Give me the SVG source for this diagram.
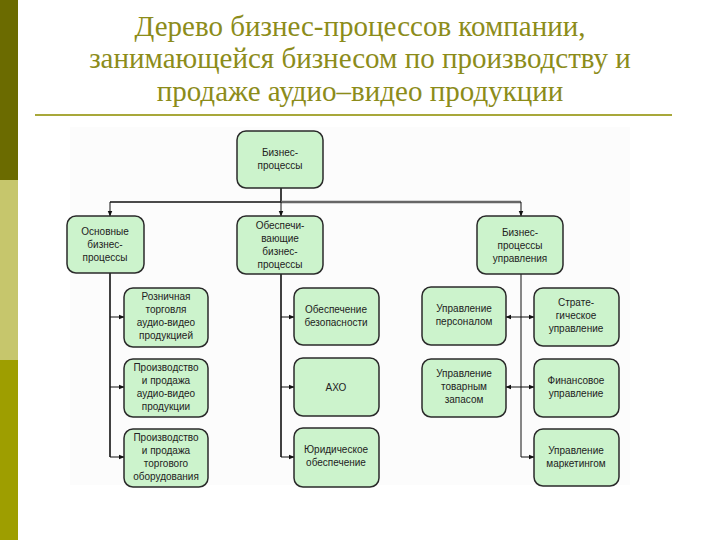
<svg xmlns="http://www.w3.org/2000/svg" width="720" height="540" viewBox="0 0 720 540">
<defs>
<style>
.title{font-family:"Liberation Serif","DejaVu Serif",serif;font-size:29px;fill:#8c8c1a;text-anchor:middle}
.node rect{fill:#ccf3cc;stroke:#2a2a2a;stroke-width:1.5}
.node text{font-family:"Liberation Sans",Arial,sans-serif;font-size:10px;fill:#222;text-anchor:middle}
.con{stroke:#111;stroke-width:1.6;fill:none}
.thin{stroke:#111;stroke-width:1;fill:none}
</style>
<marker id="ah" viewBox="0 0 10 10" refX="9" refY="5" markerWidth="6" markerHeight="6" orient="auto-start-reverse" markerUnits="userSpaceOnUse">
<path d="M0,1 L10,5 L0,9 z" fill="#111"/>
</marker>
</defs>
<rect x="0" y="0" width="720" height="540" fill="#ffffff"/>
<rect x="0" y="0" width="18" height="180" fill="#6b6b00"/>
<rect x="0" y="180" width="18" height="180" fill="#c6c66c"/>
<rect x="0" y="360" width="18" height="180" fill="#9e9e00"/>
<text class="title" x="360" y="36">Дерево бизнес-процессов компании,</text>
<text class="title" x="360" y="68">занимающейся бизнесом по производству и</text>
<text class="title" x="360" y="101">продаже аудио–видео продукции</text>
<line x1="35" y1="115" x2="672" y2="115" stroke="#a8a83a" stroke-width="2"/>
<rect x="70" y="127" width="560" height="358" fill="#fcfcfc"/>
<g id="connectors">
<path class="con" d="M281,188 V202"/>
<path class="con" d="M110,202 H281"/>
<path d="M281,202 H521" stroke="#666" stroke-width="2.5" fill="none"/>
<path class="thin" d="M110,202 V216" marker-end="url(#ah)"/>
<path class="thin" d="M281,202 V216" marker-end="url(#ah)"/>
<path class="thin" d="M521,202 V216" marker-end="url(#ah)"/>
<path class="con" d="M110,273 V457"/>
<path class="thin" d="M110,317 H124" marker-end="url(#ah)"/>
<path class="thin" d="M110,387 H124" marker-end="url(#ah)"/>
<path class="thin" d="M110,457 H124" marker-end="url(#ah)"/>
<path class="con" d="M281,274 V457"/>
<path class="thin" d="M281,317 H294" marker-end="url(#ah)"/>
<path class="thin" d="M281,387 H294" marker-end="url(#ah)"/>
<path class="thin" d="M281,457 H294" marker-end="url(#ah)"/>
<path class="thin" d="M521,274 V457"/>
<path class="thin" d="M506,317 H534" marker-start="url(#ah)" marker-end="url(#ah)"/>
<path class="thin" d="M506,387 H534" marker-start="url(#ah)" marker-end="url(#ah)"/>
<path class="thin" d="M521,457 H534" marker-end="url(#ah)"/>
</g>
<g id="n-top" class="node"><rect x="237" y="131" width="86" height="57" rx="9"/><text x="280" y="156">Бизнес-</text><text x="280" y="169">процессы</text></g>
<g id="n-main" class="node"><rect x="67" y="216" width="77" height="57" rx="9"/><text x="105" y="235">Основные</text><text x="105" y="248">бизнес-</text><text x="105" y="261">процессы</text></g>
<g id="n-support" class="node"><rect x="237" y="216" width="86" height="58" rx="9"/><text x="280" y="229">Обеспечи-</text><text x="280" y="242">вающие</text><text x="280" y="255">бизнес-</text><text x="280" y="268">процессы</text></g>
<g id="n-mgmt" class="node"><rect x="477" y="216" width="86" height="58" rx="9"/><text x="520" y="236">Бизнес-</text><text x="520" y="249">процессы</text><text x="520" y="262">управления</text></g>
<g id="n-retail" class="node"><rect x="124" y="288" width="84" height="59" rx="9"/><text x="166" y="300">Розничная</text><text x="166" y="313">торговля</text><text x="166" y="326">аудио-видео</text><text x="166" y="339">продукцией</text></g>
<g id="n-prod" class="node"><rect x="124" y="359" width="84" height="58" rx="9"/><text x="166" y="371">Производство</text><text x="166" y="384">и продажа</text><text x="166" y="397">аудио-видео</text><text x="166" y="410">продукции</text></g>
<g id="n-equip" class="node"><rect x="124" y="429" width="84" height="58" rx="9"/><text x="166" y="441">Производство</text><text x="166" y="454">и продажа</text><text x="166" y="467">торгового</text><text x="166" y="480">оборудования</text></g>
<g id="n-sec" class="node"><rect x="294" y="288" width="85" height="57" rx="9"/><text x="336" y="313">Обеспечение</text><text x="336" y="326">безопасности</text></g>
<g id="n-axo" class="node"><rect x="294" y="358" width="85" height="58" rx="9"/><text x="336" y="391">АХО</text></g>
<g id="n-legal" class="node"><rect x="294" y="428" width="85" height="59" rx="9"/><text x="336" y="453">Юридическое</text><text x="336" y="466">обеспечение</text></g>
<g id="n-hr" class="node"><rect x="422" y="287" width="84" height="58" rx="9"/><text x="464" y="312">Управление</text><text x="464" y="325">персоналом</text></g>
<g id="n-stock" class="node"><rect x="422" y="359" width="84" height="58" rx="9"/><text x="464" y="377">Управление</text><text x="464" y="390">товарным</text><text x="464" y="403">запасом</text></g>
<g id="n-strat" class="node"><rect x="534" y="288" width="85" height="58" rx="9"/><text x="576" y="306">Страте-</text><text x="576" y="319">гическое</text><text x="576" y="332">управление</text></g>
<g id="n-fin" class="node"><rect x="534" y="359" width="85" height="58" rx="9"/><text x="576" y="384">Финансовое</text><text x="576" y="397">управление</text></g>
<g id="n-mkt" class="node"><rect x="534" y="429" width="85" height="57" rx="9"/><text x="576" y="454">Управление</text><text x="576" y="467">маркетингом</text></g>
</svg>
